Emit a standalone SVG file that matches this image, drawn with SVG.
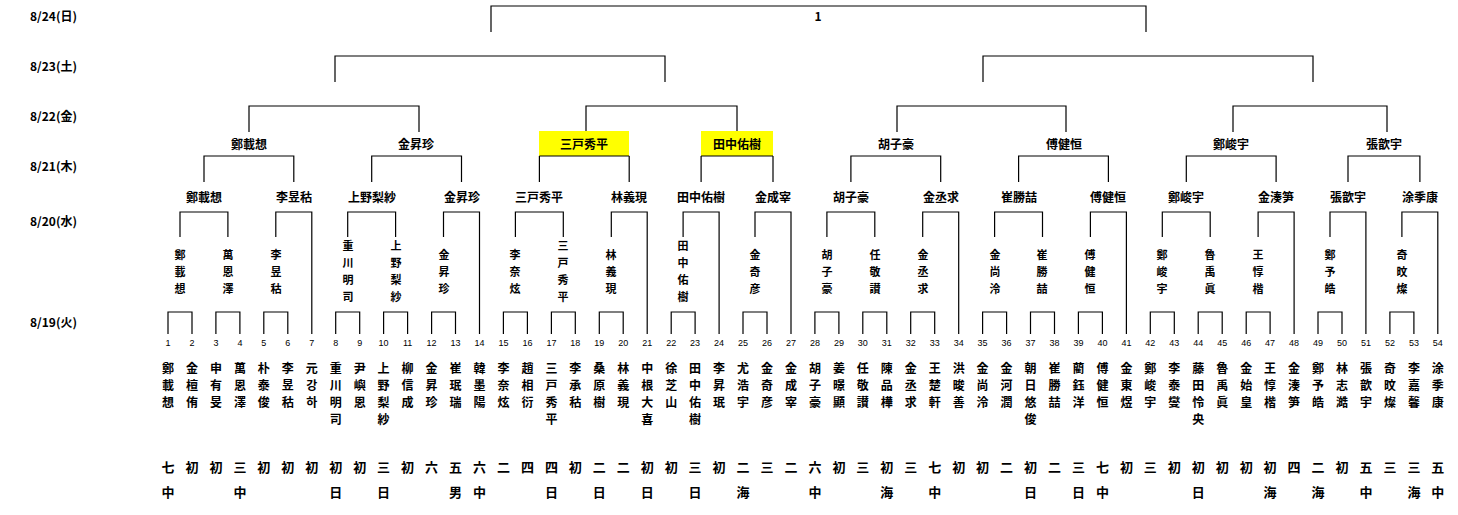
<svg xmlns="http://www.w3.org/2000/svg" width="1458" height="515" viewBox="0 0 1458 515">
<style>
text{font-family:"Noto Sans CJK JP","Noto Sans CJK KR",sans-serif;font-weight:bold;fill:#000}
.d{font-size:12px}
.num{font-size:9px;font-weight:normal;text-anchor:middle;font-family:"Liberation Sans",sans-serif}
.v{font-size:12px;writing-mode:vertical-rl;text-orientation:upright;letter-spacing:5px}
.w{font-size:11px;writing-mode:vertical-rl;text-orientation:upright;letter-spacing:6px;text-anchor:middle}
.r{font-size:13px;text-anchor:middle}
.lb{font-size:12px;text-anchor:middle}
.l{stroke:#000;stroke-width:1.2;fill:none}
.hl{fill:#ffff00}
</style>
<rect width="1458" height="515" fill="#fff"/>
<g id="dates">
<text class="d" x="30" y="21">8/24(日)</text>
<text class="d" x="30" y="71">8/23(土)</text>
<text class="d" x="30" y="121">8/22(金)</text>
<text class="d" x="30" y="171">8/21(木)</text>
<text class="d" x="30" y="226">8/20(水)</text>
<text class="d" x="30" y="327">8/19(火)</text>
</g>
<g id="highlights">
<rect class="hl" x="539" y="131" width="90" height="25"/>
<rect class="hl" x="701" y="131" width="72" height="25"/>
</g>
<g id="connectors" class="l">
<path d="M168 334V312H192V334M215.9 334V312H239.9V334M263.8 334V312H287.8V334M335.7 334V312H359.7V334M383.6 334V312H407.6V334M431.6 334V312H455.5V334M503.4 334V312H527.4V334M551.4 334V312H575.3V334M599.3 334V312H623.2V334M671.2 334V312H695.1V334M743 334V312H767V334M814.9 334V312H838.9V334M862.8 334V312H886.8V334M910.7 334V312H934.7V334M982.6 334V312H1006.6V334M1030.5 334V312H1054.5V334M1078.4 334V312H1102.4V334M1150.3 334V312H1174.3V334M1198.2 334V312H1222.2V334M1246.2 334V312H1270.1V334M1318 334V312H1342V334M1389.9 334V312H1413.9V334"/>
<path d="M180 237V212H227.9V237M275.8 237V212H311.8V334M347.7 237V212H395.6V237M443.5 237V212H479.5V334M515.4 237V212H563.3V237M611.3 237V212H647.2V334M683.1 237V212H719.1V334M755 237V212H791V334M826.9 237V212H874.8V237M922.7 237V212H958.7V334M994.6 237V212H1042.5V237M1090.4 237V212H1126.4V334M1162.3 237V212H1210.2V237M1258.1 237V212H1294.1V334M1330 237V212H1365.9V334M1401.9 237V212H1437.8V334"/>
<path d="M204 182V156H293.8V182M371.7 182V156H461.5V182M539.4 156V182M629.2 156V182M539.4 156H629.2M701.1 156V182M773 156V182M701.1 156H773M850.9 182V156H940.7V182M1018.6 182V156H1108.4V182M1186.3 182V156H1276.1V182M1348 182V156H1419.9V182"/>
<path d="M249 132V106H419V132M586 131V106H737V131M897 132V106H1066V132M1233 132V106H1387V132"/>
<path d="M335 82V56H665V82M983 82V56H1313V82"/>
<path d="M491 32V6H1146V32"/>
</g>
<g id="final"><text class="lb" x="818" y="21">1</text></g>
<g id="r3">
<text class="lb" x="249" y="149">鄭載想</text>
<text class="lb" x="416" y="149">金昇珍</text>
<text class="lb" x="584" y="149">三戸秀平</text>
<text class="lb" x="737" y="149">田中佑樹</text>
<text class="lb" x="896" y="149">胡子豪</text>
<text class="lb" x="1064" y="149">傅健恒</text>
<text class="lb" x="1231" y="149">鄭峻宇</text>
<text class="lb" x="1384" y="149">張歆宇</text>
</g>
<g id="r2">
<text class="lb" x="204" y="202">鄭載想</text>
<text class="lb" x="294" y="202">李昱秙</text>
<text class="lb" x="372" y="202">上野梨紗</text>
<text class="lb" x="462" y="202">金昇珍</text>
<text class="lb" x="539" y="202">三戸秀平</text>
<text class="lb" x="629" y="202">林義現</text>
<text class="lb" x="701" y="202">田中佑樹</text>
<text class="lb" x="773" y="202">金成宰</text>
<text class="lb" x="851" y="202">胡子豪</text>
<text class="lb" x="941" y="202">金丞求</text>
<text class="lb" x="1019" y="202">崔勝喆</text>
<text class="lb" x="1108" y="202">傅健恒</text>
<text class="lb" x="1186" y="202">鄭峻宇</text>
<text class="lb" x="1276" y="202">金湊笋</text>
<text class="lb" x="1348" y="202">張歆宇</text>
<text class="lb" x="1420" y="202">涂季康</text>
</g>
<g id="r1">
<text class="w" x="180" y="275">鄭載想</text>
<text class="w" x="228" y="275">萬恩澤</text>
<text class="w" x="276" y="275">李昱秙</text>
<text class="w" x="348" y="274">重川明司</text>
<text class="w" x="396" y="274">上野梨紗</text>
<text class="w" x="444" y="275">金昇珍</text>
<text class="w" x="515" y="275">李奈炫</text>
<text class="w" x="563" y="274">三戸秀平</text>
<text class="w" x="611" y="275">林義現</text>
<text class="w" x="683" y="274">田中佑樹</text>
<text class="w" x="755" y="275">金奇彦</text>
<text class="w" x="827" y="275">胡子豪</text>
<text class="w" x="875" y="275">任敬讃</text>
<text class="w" x="923" y="275">金丞求</text>
<text class="w" x="995" y="275">金尚泠</text>
<text class="w" x="1042" y="275">崔勝喆</text>
<text class="w" x="1090" y="275">傅健恒</text>
<text class="w" x="1162" y="275">鄭峻宇</text>
<text class="w" x="1210" y="275">魯禹眞</text>
<text class="w" x="1258" y="275">王惇楷</text>
<text class="w" x="1330" y="275">鄭予皓</text>
<text class="w" x="1402" y="275">奇旼燦</text>
</g>
<g id="numbers">
<text class="num" x="168" y="346">1</text><text class="num" x="192" y="346">2</text><text class="num" x="215.9" y="346">3</text><text class="num" x="239.9" y="346">4</text><text class="num" x="263.8" y="346">5</text><text class="num" x="287.8" y="346">6</text><text class="num" x="311.8" y="346">7</text><text class="num" x="335.7" y="346">8</text><text class="num" x="359.7" y="346">9</text><text class="num" x="383.6" y="346">10</text><text class="num" x="407.6" y="346">11</text><text class="num" x="431.6" y="346">12</text><text class="num" x="455.5" y="346">13</text><text class="num" x="479.5" y="346">14</text><text class="num" x="503.4" y="346">15</text><text class="num" x="527.4" y="346">16</text><text class="num" x="551.4" y="346">17</text><text class="num" x="575.3" y="346">18</text><text class="num" x="599.3" y="346">19</text><text class="num" x="623.2" y="346">20</text><text class="num" x="647.2" y="346">21</text><text class="num" x="671.2" y="346">22</text><text class="num" x="695.1" y="346">23</text><text class="num" x="719.1" y="346">24</text><text class="num" x="743" y="346">25</text><text class="num" x="767" y="346">26</text><text class="num" x="791" y="346">27</text><text class="num" x="814.9" y="346">28</text><text class="num" x="838.9" y="346">29</text><text class="num" x="862.8" y="346">30</text><text class="num" x="886.8" y="346">31</text><text class="num" x="910.7" y="346">32</text><text class="num" x="934.7" y="346">33</text><text class="num" x="958.7" y="346">34</text><text class="num" x="982.6" y="346">35</text><text class="num" x="1006.6" y="346">36</text><text class="num" x="1030.5" y="346">37</text><text class="num" x="1054.5" y="346">38</text><text class="num" x="1078.4" y="346">39</text><text class="num" x="1102.4" y="346">40</text><text class="num" x="1126.4" y="346">41</text><text class="num" x="1150.3" y="346">42</text><text class="num" x="1174.3" y="346">43</text><text class="num" x="1198.2" y="346">44</text><text class="num" x="1222.2" y="346">45</text><text class="num" x="1246.2" y="346">46</text><text class="num" x="1270.1" y="346">47</text><text class="num" x="1294.1" y="346">48</text><text class="num" x="1318" y="346">49</text><text class="num" x="1342" y="346">50</text><text class="num" x="1365.9" y="346">51</text><text class="num" x="1389.9" y="346">52</text><text class="num" x="1413.9" y="346">53</text><text class="num" x="1437.8" y="346">54</text>
</g>
<g id="players">
<text class="v" x="168" y="362">鄭載想</text><text class="v" x="192" y="362">金檀侑</text><text class="v" x="215.9" y="362">申有旻</text><text class="v" x="239.9" y="362">萬恩澤</text><text class="v" x="263.8" y="362">朴泰俊</text><text class="v" x="287.8" y="362">李昱秙</text><text class="v" x="311.8" y="362">元강하</text><text class="v" x="335.7" y="362">重川明司</text><text class="v" x="359.7" y="362">尹嶼恩</text><text class="v" x="383.6" y="362">上野梨紗</text><text class="v" x="407.6" y="362">柳信成</text><text class="v" x="431.6" y="362">金昇珍</text><text class="v" x="455.5" y="362">崔珉瑞</text><text class="v" x="479.5" y="362">韓墨陽</text><text class="v" x="503.4" y="362">李奈炫</text><text class="v" x="527.4" y="362">趙相衍</text><text class="v" x="551.4" y="362">三戸秀平</text><text class="v" x="575.3" y="362">李承秙</text><text class="v" x="599.3" y="362">桑原樹</text><text class="v" x="623.2" y="362">林義現</text><text class="v" x="647.2" y="362">中根大喜</text><text class="v" x="671.2" y="362">徐芝山</text><text class="v" x="695.1" y="362">田中佑樹</text><text class="v" x="719.1" y="362">李昇珉</text><text class="v" x="743" y="362">尤浩宇</text><text class="v" x="767" y="362">金奇彦</text><text class="v" x="791" y="362">金成宰</text><text class="v" x="814.9" y="362">胡子豪</text><text class="v" x="838.9" y="362">姜暻顯</text><text class="v" x="862.8" y="362">任敬讃</text><text class="v" x="886.8" y="362">陳品樺</text><text class="v" x="910.7" y="362">金丞求</text><text class="v" x="934.7" y="362">王楚軒</text><text class="v" x="958.7" y="362">洪晙善</text><text class="v" x="982.6" y="362">金尚泠</text><text class="v" x="1006.6" y="362">金河潤</text><text class="v" x="1030.5" y="362">朝日悠俊</text><text class="v" x="1054.5" y="362">崔勝喆</text><text class="v" x="1078.4" y="362">藺鈺洋</text><text class="v" x="1102.4" y="362">傅健恒</text><text class="v" x="1126.4" y="362">金東煜</text><text class="v" x="1150.3" y="362">鄭峻宇</text><text class="v" x="1174.3" y="362">李泰燮</text><text class="v" x="1198.2" y="362">藤田怜央</text><text class="v" x="1222.2" y="362">魯禹眞</text><text class="v" x="1246.2" y="362">金始皇</text><text class="v" x="1270.1" y="362">王惇楷</text><text class="v" x="1294.1" y="362">金湊笋</text><text class="v" x="1318" y="362">鄭予皓</text><text class="v" x="1342" y="362">林志澔</text><text class="v" x="1365.9" y="362">張歆宇</text><text class="v" x="1389.9" y="362">奇旼燦</text><text class="v" x="1413.9" y="362">李嘉馨</text><text class="v" x="1437.8" y="362">涂季康</text>
</g>
<g id="ranks">
<text class="r" x="168" y="472">七</text><text class="r" x="192" y="472">初</text><text class="r" x="215.9" y="472">初</text><text class="r" x="239.9" y="472">三</text><text class="r" x="263.8" y="472">初</text><text class="r" x="287.8" y="472">初</text><text class="r" x="311.8" y="472">初</text><text class="r" x="335.7" y="472">初</text><text class="r" x="359.7" y="472">初</text><text class="r" x="383.6" y="472">三</text><text class="r" x="407.6" y="472">初</text><text class="r" x="431.6" y="472">六</text><text class="r" x="455.5" y="472">五</text><text class="r" x="479.5" y="472">六</text><text class="r" x="503.4" y="472">二</text><text class="r" x="527.4" y="472">四</text><text class="r" x="551.4" y="472">四</text><text class="r" x="575.3" y="472">初</text><text class="r" x="599.3" y="472">二</text><text class="r" x="623.2" y="472">二</text><text class="r" x="647.2" y="472">初</text><text class="r" x="671.2" y="472">初</text><text class="r" x="695.1" y="472">三</text><text class="r" x="719.1" y="472">初</text><text class="r" x="743" y="472">二</text><text class="r" x="767" y="472">三</text><text class="r" x="791" y="472">二</text><text class="r" x="814.9" y="472">六</text><text class="r" x="838.9" y="472">初</text><text class="r" x="862.8" y="472">三</text><text class="r" x="886.8" y="472">初</text><text class="r" x="910.7" y="472">三</text><text class="r" x="934.7" y="472">七</text><text class="r" x="958.7" y="472">初</text><text class="r" x="982.6" y="472">初</text><text class="r" x="1006.6" y="472">二</text><text class="r" x="1030.5" y="472">初</text><text class="r" x="1054.5" y="472">二</text><text class="r" x="1078.4" y="472">三</text><text class="r" x="1102.4" y="472">七</text><text class="r" x="1126.4" y="472">初</text><text class="r" x="1150.3" y="472">三</text><text class="r" x="1174.3" y="472">初</text><text class="r" x="1198.2" y="472">初</text><text class="r" x="1222.2" y="472">初</text><text class="r" x="1246.2" y="472">初</text><text class="r" x="1270.1" y="472">初</text><text class="r" x="1294.1" y="472">四</text><text class="r" x="1318" y="472">二</text><text class="r" x="1342" y="472">初</text><text class="r" x="1365.9" y="472">五</text><text class="r" x="1389.9" y="472">三</text><text class="r" x="1413.9" y="472">三</text><text class="r" x="1437.8" y="472">五</text>
<text class="r" x="168" y="497">中</text><text class="r" x="239.9" y="497">中</text><text class="r" x="335.7" y="497">日</text><text class="r" x="383.6" y="497">日</text><text class="r" x="455.5" y="497">男</text><text class="r" x="479.5" y="497">中</text><text class="r" x="551.4" y="497">日</text><text class="r" x="599.3" y="497">日</text><text class="r" x="647.2" y="497">日</text><text class="r" x="695.1" y="497">日</text><text class="r" x="743" y="497">海</text><text class="r" x="814.9" y="497">中</text><text class="r" x="886.8" y="497">海</text><text class="r" x="934.7" y="497">中</text><text class="r" x="1030.5" y="497">日</text><text class="r" x="1078.4" y="497">日</text><text class="r" x="1102.4" y="497">中</text><text class="r" x="1198.2" y="497">日</text><text class="r" x="1270.1" y="497">海</text><text class="r" x="1318" y="497">海</text><text class="r" x="1365.9" y="497">中</text><text class="r" x="1413.9" y="497">海</text><text class="r" x="1437.8" y="497">中</text>
</g>
</svg>
